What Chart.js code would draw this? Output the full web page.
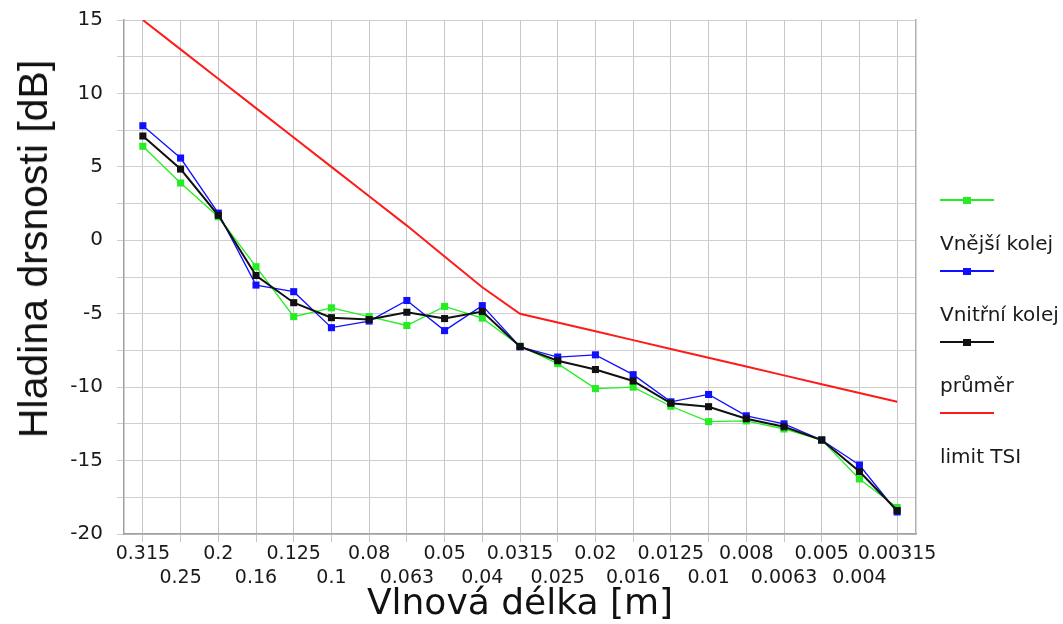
<!DOCTYPE html>
<html>
<head>
<meta charset="utf-8">
<script src="https://cdn.jsdelivr.net/npm/chart.js@4.4.1/dist/chart.umd.min.js"></script>
<style>
  html, body { margin: 0; padding: 0; background: #fff; }
  #wrap { position: relative; width: 1063px; height: 624px; overflow: hidden; }
  #legend { position: absolute; left: 940px; top: 190px; font-family: "DejaVu Sans"; font-size: 20px; color: #1a1a1a; }
  .item { position: relative; height: 71px; }
  .sample { position: absolute; left: 0; top: 10px; width: 54px; height: 0; }
  .sample .ln { position: absolute; left: 0; right: 0; }
  .sample .mk { position: absolute; left: 23px; width: 8px; height: 7px; top: -3.5px; }
  .label { position: absolute; left: 0; top: 41px; line-height: 24px; white-space: nowrap; }
  #ytitle { position: absolute; left: 33px; top: 249px; width: 0; height: 0; }
  #ytitle span { position: absolute; transform: translate(-50%, -50%) rotate(-90deg);
    font-family: "Liberation Sans"; font-size: 41px; line-height: 46px; color: #111; white-space: nowrap; }
</style>
</head>
<body>
<div id="wrap">
  <canvas id="graf" width="1063" height="624"></canvas>
  <div id="ytitle"><span>Hladina drsnosti [dB]</span></div>
  <div id="legend"></div>
</div>
<script>
// hodnoty
const kategorie = ["0.315", "0.25", "0.2", "0.16", "0.125", "0.1", "0.08", "0.063", "0.05", "0.04",
  "0.0315", "0.025", "0.02", "0.016", "0.0125", "0.01", "0.008", "0.0063", "0.005", "0.004", "0.00315"];

const vnejsi = [6.4, 3.9, 1.6, -1.8, -5.2, -4.6, -5.2, -5.8, -4.5, -5.3,
  -7.2, -8.4, -10.1, -10.0, -11.3, -12.35, -12.3, -12.85, -13.6, -16.25, -18.2];

const vnitrni = [7.8, 5.6, 1.85, -3.05, -3.5, -5.95, -5.5, -4.1, -6.15, -4.45,
  -7.25, -7.95, -7.8, -9.15, -11.0, -10.5, -11.95, -12.5, -13.6, -15.3, -18.5];

const prumer = [7.1, 4.85, 1.7, -2.4, -4.25, -5.27, -5.4, -4.9, -5.33, -4.85,
  -7.24, -8.2, -8.8, -9.58, -11.1, -11.33, -12.15, -12.7, -13.6, -15.75, -18.4];

const limitTSI = [15, 13, 11, 9, 7, 5, 3, 1, -1.1, -3.2,
  -5, -5.6, -6.2, -6.8, -7.4, -8.0, -8.6, -9.2, -9.8, -10.4, -11.0];

const yTicks = { min: -20, max: 15, step: 2.5, labelEvery: 5 };

const fontTick = { family: "DejaVu Sans", size: 19, lineHeight: 1.25 };

function serie(label, data, color, width, marker, order) {
  return {
    label: label,
    data: data,
    borderColor: color,
    backgroundColor: color,
    borderWidth: width,
    pointStyle: "rect",
    pointRadius: marker ? 5 : 0,
    pointBorderWidth: 0,
    tension: 0,
    order: order,
  };
}

const chart = new Chart(document.getElementById("graf"), {
  type: "line",
  data: {
    labels: kategorie,
    datasets: [
      serie("Vnější kolej", vnejsi, "#22ee22", 1.3, true, 3),
      serie("Vnitřní kolej", vnitrni, "#1010ff", 1.3, true, 2),
      serie("průměr", prumer, "#111111", 2, true, 0),
      serie("limit TSI", limitTSI, "#ff1a1a", 2, false, 1),
    ],
  },
  options: {
    responsive: false,
    animation: false,
    layout: { padding: { top: 20, right: 146, bottom: 0, left: 0 } },
    plugins: { legend: { display: false }, tooltip: { enabled: false } },
    scales: {
      x: {
        offset: true,
        grid: { color: "#c6c6c6", tickLength: 8 },
        border: { color: "#a0a0a0", width: 1.5 },
        ticks: {
          autoSkip: false,
          maxRotation: 0,
          color: "#1a1a1a",
          font: fontTick,
          padding: 0,
          callback: function (v, i) {
            const l = this.getLabelForValue(v);
            return i % 2 ? ["", l] : l;
          },
        },
        title: {
          display: true,
          text: "Vlnová délka [m]",
          color: "#111",
          font: { family: "DejaVu Sans", size: 36, lineHeight: 1.1 },
          padding: { top: 0, bottom: 0 },
        },
        afterFit: (s) => { s.height = 90; },
      },
      y: {
        min: yTicks.min,
        max: yTicks.max,
        grid: { color: "#cfcfcf", tickLength: 7 },
        border: { color: "#a0a0a0", width: 1.5 },
        ticks: {
          stepSize: yTicks.step,
          color: "#1a1a1a",
          font: { family: "DejaVu Sans", size: 20 },
          padding: 14,
          callback: (v) => (v % yTicks.labelEvery === 0 ? v : ""),
        },
        afterFit: (s) => {
          s.width = 124;
          s.paddingTop = 0;
        },
      },
      y2: {
        position: "right",
        grid: { drawOnChartArea: false, drawTicks: false },
        border: { color: "#b0b0b0", width: 1.5 },
        ticks: { display: false },
        afterFit: (s) => { s.width = 1; },
      },
    },
  },
});

// legenda: vzorek čáry nad popiskem
const legend = document.getElementById("legend");
chart.data.datasets.forEach((ds) => {
  const item = document.createElement("div");
  item.className = "item";
  const hasMarker = ds.pointRadius > 0;
  item.innerHTML = `
    <div class="sample">
      <div class="ln" style="top:${-ds.borderWidth / 2}px;height:${ds.borderWidth}px;background:${ds.borderColor}"></div>
      ${hasMarker ? `<div class="mk" style="background:${ds.borderColor}"></div>` : ""}
    </div>
    <div class="label">${ds.label}</div>
  `;
  legend.appendChild(item);
});
</script>
</body>
</html>
